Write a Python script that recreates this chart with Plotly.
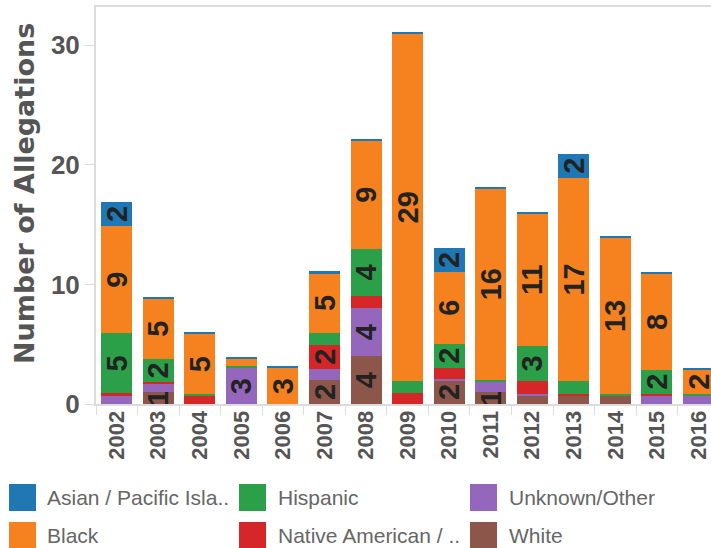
import plotly.graph_objects as go

# Allegations per year, split by race/ethnicity (stacked bottom to top)
years = ["2002", "2003", "2004", "2005", "2006", "2007", "2008", "2009",
         "2010", "2011", "2012", "2013", "2014", "2015", "2016"]

white = [0, 1, 0, 0, 0, 2, 4, 0, 2, 1, 0.67, 0.7, 0.7, 0, 0]
unknown_other = [0.7, 0.7, 0, 3, 0, 0.95, 4, 0, 0.05, 0.85, 0.17, 0, 0, 0.7, 0.7]
native_american = [0.2, 0.1, 0.67, 0, 0, 2, 1, 0.9, 1, 0, 1.05, 0.17, 0, 0.17, 0]
hispanic = [5, 2, 0.17, 0.17, 0, 1.0, 4, 1.05, 2, 0.17, 3, 1.05, 0.17, 2, 0.17]
black = [9, 5, 5, 0.65, 3, 5, 9, 29, 6, 16, 11, 17, 13, 8, 2]
asian_pacific = [2, 0.17, 0.17, 0.15, 0.17, 0.14, 0.14, 0.14, 2, 0.14, 0.17, 2, 0.17, 0.17, 0.17]

# Years whose segment carries a value label
labeled_white = ["2003", "2007", "2008", "2010", "2011"]
labeled_unknown = ["2005", "2008"]
labeled_native = ["2007"]
labeled_hispanic = ["2002", "2003", "2008", "2010", "2012", "2015"]
labeled_black = [y for y in years if y != "2005"]
labeled_asian = ["2002", "2010", "2013"]

y_ticks = [0, 10, 20, 30]

series = [
    ("White", white, "#8c564b", labeled_white, "White"),
    ("Unknown/Other", unknown_other, "#9467bd", labeled_unknown, "Unknown/Other"),
    ("Native American / Alaska Native", native_american, "#d62728", labeled_native,
     "Native American / .."),
    ("Hispanic", hispanic, "#2ca048", labeled_hispanic, "Hispanic"),
    ("Black", black, "#f5821f", labeled_black, "Black"),
    ("Asian / Pacific Islander", asian_pacific, "#1f77b4", labeled_asian,
     "Asian / Pacific Isla.."),
]

fig = go.Figure()
for name, vals, color, labeled, _ in series:
    texts = [f"{v:g}" if yr in labeled else "" for yr, v in zip(years, vals)]
    fig.add_trace(go.Bar(
        x=years, y=vals, name=name, marker_color=color, marker_line_width=0,
        text=texts, textposition="inside", insidetextanchor="middle",
        textangle=-90,
        textfont=dict(family="Liberation Sans", size=29, color="#222222",
                      weight="bold"),
        showlegend=False,
        hovertemplate=name + "<br>%{x}: %{y}<extra></extra>",
    ))

W, H = 711, 548
ML, MR, MT, MB = 96, 0, 7, 144
pw, ph = W - ML - MR, H - MT - MB


def px_x(x):
    return (x - ML) / pw


def px_y(y):
    return (H - MB - y) / ph


# Legend drawn as swatches + labels in three columns, two rows
legend_order = [5, 4, 3, 2, 1, 0]  # Asian, Black, Hispanic, Native, Unknown, White
col_swatch_x = [9, 239, 470]
col_text_x = [45, 276, 507]
row_top = [484, 522]
sw = 27
shapes = []
annotations = []
for i, idx in enumerate(legend_order):
    col, row = i // 2, i % 2
    _, _, color, _, label = series[idx]
    x0 = col_swatch_x[col]
    y0 = row_top[row]
    shapes.append(dict(type="rect", xref="paper", yref="paper",
                       x0=px_x(x0), x1=px_x(x0 + sw), y0=px_y(y0 + sw), y1=px_y(y0),
                       fillcolor=color, line_width=0, layer="above"))
    annotations.append(dict(xref="paper", yref="paper", x=px_x(col_text_x[col]),
                            y=px_y(y0 + sw / 2), text=label, showarrow=False,
                            xanchor="left", yanchor="middle",
                            font=dict(family="Liberation Sans", size=21, color="#666666")))

# Vertical axis title
annotations.append(dict(xref="paper", yref="paper", x=px_x(24), y=px_y(194),
                        text="Number of Allegations", textangle=-90, showarrow=False,
                        xanchor="center", yanchor="middle",
                        font=dict(family="DejaVu Sans", size=27, color="#555555",
                                  weight="bold")))

fig.update_layout(
    width=W, height=H,
    margin=dict(l=ML, r=MR, t=MT, b=MB, pad=0),
    barmode="stack", bargap=0.254,
    plot_bgcolor="white", paper_bgcolor="white",
    uniformtext=dict(minsize=29, mode="show"),
    shapes=shapes, annotations=annotations,
    xaxis=dict(type="category", range=[-0.5, 14.3], showgrid=False,
               showline=True, linecolor="#dcdcdc", linewidth=2, mirror=True,
               ticks="outside", tickson="boundaries", ticklen=9, tickcolor="#dcdcdc",
               tickwidth=1, tickangle=-90, ticklabelstandoff=-4,
               tickfont=dict(family="Liberation Sans", size=22, color="#555555",
                             weight="bold")),
    yaxis=dict(range=[0, 33.2], tickvals=y_ticks, showgrid=False, zeroline=False,
               showline=True, linecolor="#dcdcdc", linewidth=2,
               ticks="outside", ticklen=9, tickcolor="#dcdcdc", tickwidth=1,
               tickfont=dict(family="Liberation Sans", size=26, color="#555555",
                             weight="bold")),
)

fig.write_html("out.html")
